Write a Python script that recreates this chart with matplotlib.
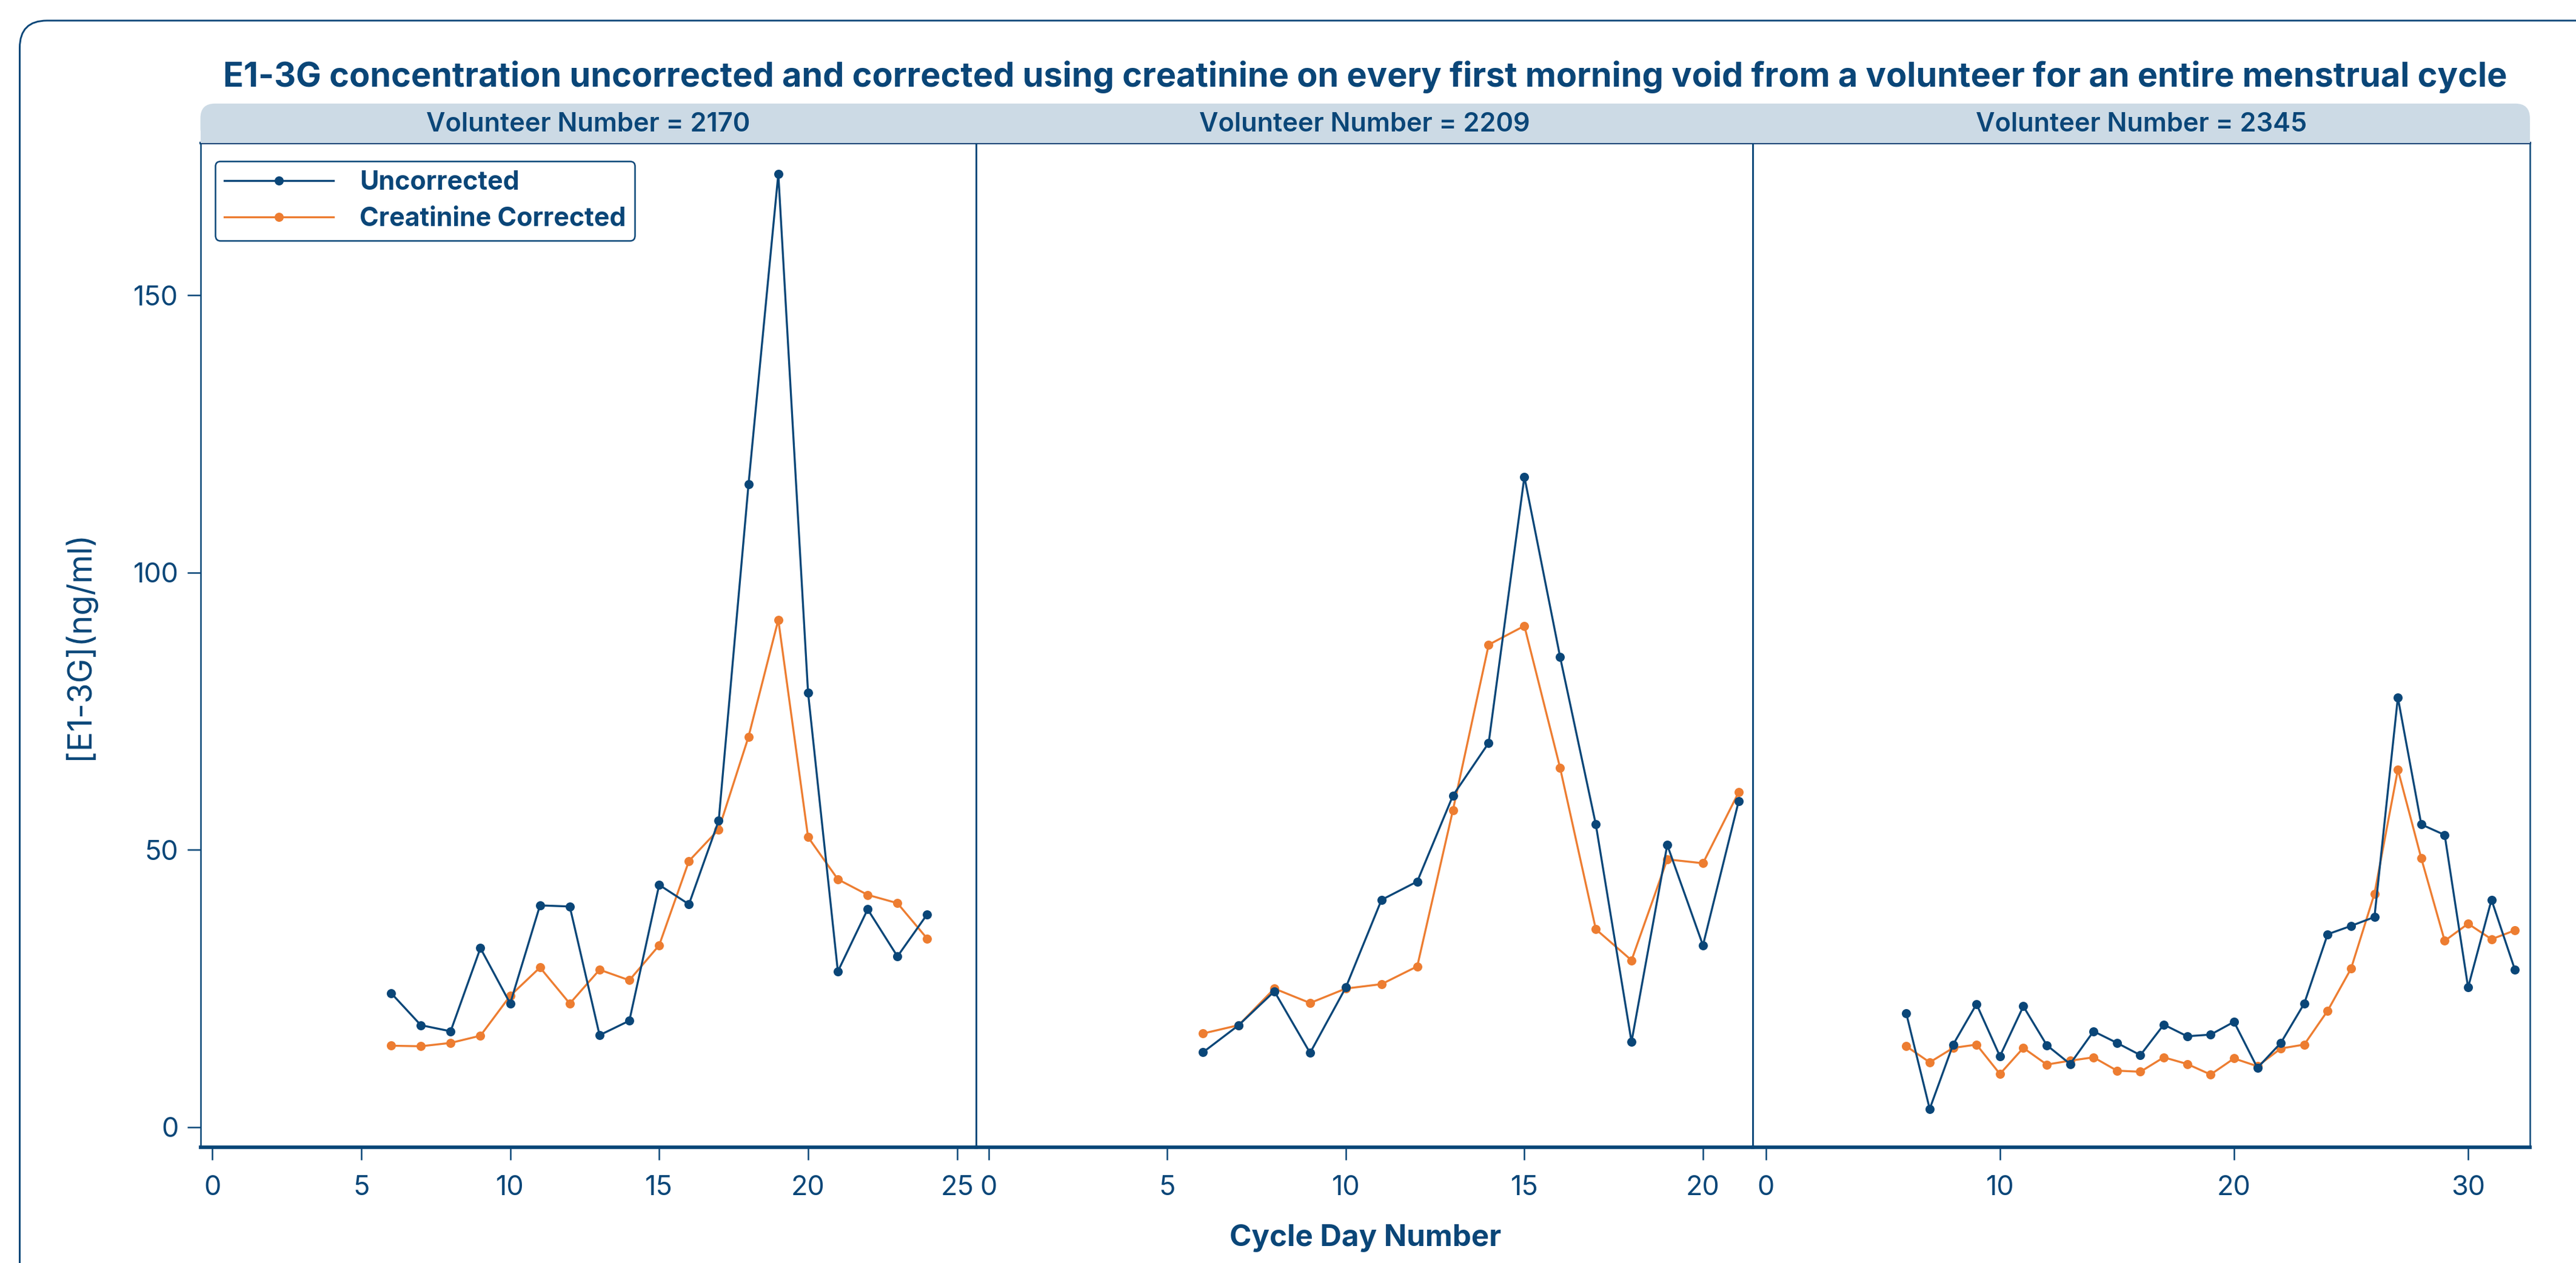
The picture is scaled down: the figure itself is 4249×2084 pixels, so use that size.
import matplotlib
matplotlib.use('Agg')
import matplotlib.pyplot as plt
from matplotlib.patches import FancyBboxPatch, Rectangle

# ---- data ----
days_2170 = list(range(6, 25))
uncorr_2170 = [24.2, 18.4, 17.3, 32.3, 22.3, 40.0, 39.8, 16.6, 19.2, 43.7,
               40.2, 55.3, 115.9, 171.9, 78.3, 28.1, 39.3, 30.8, 38.4]
corr_2170 = [14.7, 14.6, 15.2, 16.5, 23.7, 28.8, 22.3, 28.4, 26.5, 32.8,
             48.0, 53.7, 70.4, 91.5, 52.3, 44.7, 41.9, 40.4, 34.0]

days_2209 = list(range(6, 22))
uncorr_2209 = [13.5, 18.4, 24.5, 13.4, 25.2, 41.0, 44.3, 59.8, 69.3, 117.3,
               84.8, 54.6, 15.4, 50.9, 32.8, 58.8]
corr_2209 = [16.9, 18.4, 25.0, 22.4, 25.0, 25.8, 29.0, 57.2, 87.0, 90.4,
             64.8, 35.7, 30.1, 48.3, 47.6, 60.4]

days_2345 = list(range(6, 33))
uncorr_2345 = [20.5, 3.3, 14.9, 22.2, 12.8, 21.8, 14.8, 11.4, 17.3, 15.2,
               13.0, 18.5, 16.4, 16.7, 19.0, 10.7, 15.2, 22.3, 34.8, 36.3,
               37.9, 77.5, 54.6, 52.7, 25.2, 41.0, 28.4]
corr_2345 = [14.6, 11.7, 14.3, 14.9, 9.6, 14.3, 11.3, 12.0, 12.6, 10.2,
             10.0, 12.6, 11.4, 9.5, 12.4, 11.0, 14.2, 14.9, 21.0, 28.6,
             42.1, 64.5, 48.5, 33.6, 36.7, 33.9, 35.5]

volunteers = ['2170', '2209', '2345']
x_ticks = [[0, 5, 10, 15, 20, 25], [0, 5, 10, 15, 20], [0, 10, 20, 30]]
y_ticks = [0, 50, 100, 150]

navy = '#0a4678'
orange = '#ed7d31'
strip_color = '#ccdae5'

plt.rcParams['font.family'] = ['Inter', 'DejaVu Sans']

W, H = 4249 / 300, 2084 / 300
fig = plt.figure(figsize=(W, H), dpi=300, facecolor='white')

# outer rounded frame (runs off the right and bottom edges)
frame = FancyBboxPatch((0.00765 * W, -1.0), W + 1.0, 0.9837 * H + 1.0,
                       boxstyle='round,pad=0,rounding_size=0.15',
                       transform=fig.dpi_scale_trans, facecolor='none',
                       edgecolor=navy, linewidth=0.7)
fig.patches.append(frame)

# panel geometry (figure fractions)
edges = [0.0778, 0.3788, 0.6805, 0.9821]
bottom, top = 0.0917, 0.8869
xlims = [(-0.4, 25.63), (-0.36, 21.4), (-0.55, 32.64)]
ylim = (-3.6, 177.5)

# facet strip with rounded top corners
strip_y0, strip_y1 = top, 0.918
strip_w = (edges[-1] - edges[0]) * W
strip_h = (strip_y1 - strip_y0) * H
fig.patches.append(FancyBboxPatch((edges[0] * W, strip_y0 * H), strip_w, strip_h,
                                  boxstyle='round,pad=0,rounding_size=0.08',
                                  transform=fig.dpi_scale_trans,
                                  facecolor=strip_color, edgecolor='none'))
fig.patches.append(Rectangle((edges[0] * W, strip_y0 * H), strip_w, strip_h / 2,
                             transform=fig.dpi_scale_trans,
                             facecolor=strip_color, edgecolor='none'))

series = [(days_2170, uncorr_2170, corr_2170),
          (days_2209, uncorr_2209, corr_2209),
          (days_2345, uncorr_2345, corr_2345)]

axes = []
for i, (days, unc, cor) in enumerate(series):
    ax = fig.add_axes([edges[i], bottom, edges[i + 1] - edges[i], top - bottom])
    axes.append(ax)
    ax.plot(days, unc, color=navy, marker='o', markersize=2.6, linewidth=0.8,
            label='Uncorrected', zorder=3)
    ax.plot(days, cor, color=orange, marker='o', markersize=2.6, linewidth=0.8,
            label='Creatinine Corrected', zorder=2)
    ax.set_xlim(*xlims[i])
    ax.set_ylim(*ylim)
    ax.set_xticks(x_ticks[i])
    ax.set_yticks(y_ticks)
    ax.set_facecolor('none')

    for side in ['top', 'bottom', 'left', 'right']:
        ax.spines[side].set_color(navy)
    ax.spines['top'].set_linewidth(1.0)
    ax.spines['bottom'].set_linewidth(1.4)
    ax.spines['left'].set_linewidth(0.6)
    ax.spines['right'].set_linewidth(0.6)

    ax.tick_params(axis='x', direction='out', length=5, width=0.6, color=navy,
                   labelcolor=navy, labelsize=10.8, pad=6)
    if i == 0:
        ax.tick_params(axis='y', direction='out', length=5.3, width=0.6, color=navy,
                       labelcolor=navy, labelsize=10.8, pad=3.4)
    else:
        ax.tick_params(axis='y', left=False, labelleft=False)

    # strip label
    fig.text((edges[i] + edges[i + 1]) / 2, (strip_y0 + strip_y1) / 2 - 0.001,
             f'Volunteer Number = {volunteers[i]}', ha='center', va='center',
             fontsize=10.4, fontweight='semibold', color=navy)

leg = axes[0].legend(loc='upper left', bbox_to_anchor=(0.019, 0.982), borderaxespad=0,
                     fontsize=10.3, frameon=True, fancybox=True, edgecolor=navy,
                     framealpha=1, handlelength=4.2, labelspacing=0.45,
                     borderpad=0.35, handletextpad=1.0)
leg.get_frame().set_linewidth(0.6)
for txt in leg.get_texts():
    txt.set_color(navy)
    txt.set_fontweight('bold')

center_x = (edges[0] + edges[-1]) / 2
fig.text(center_x, 0.939,
         'E1-3G concentration uncorrected and corrected using creatinine on every '
         'first morning void from a volunteer for an entire menstrual cycle',
         ha='center', va='center', fontsize=13.4, fontweight='bold', color=navy)
fig.text(center_x, 0.0195, 'Cycle Day Number', ha='center', va='center',
         fontsize=11.8, fontweight='bold', color=navy)
fig.text(0.0306, (bottom + top) / 2, '[E1-3G](ng/ml)', ha='center', va='center',
         rotation=90, fontsize=13, color=navy)

plt.savefig('out.png', dpi=300, facecolor='white')
